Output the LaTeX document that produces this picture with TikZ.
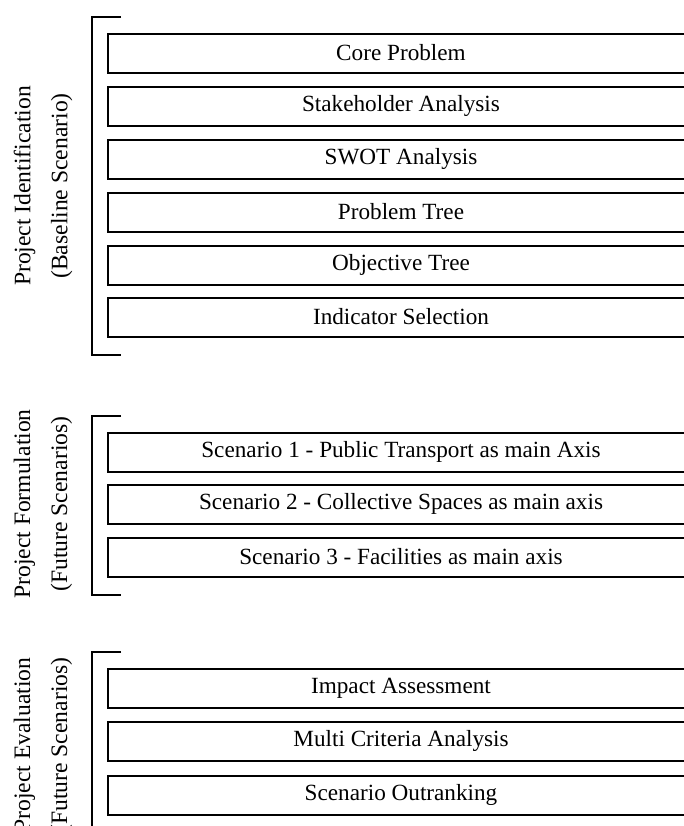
\documentclass[tikz,border=0pt]{standalone}
\usepackage{fontspec}
\setmainfont{Liberation Serif}
\usepackage{tikz}
\usetikzlibrary{calc}
\tikzset{stepbox/.style={draw, line width=1pt, minimum width=293pt, minimum height=19.5pt, inner sep=0pt, font=\fontsize{11.6}{13.5}\selectfont}}
\tikzset{phase/.style={rotate=90, align=center, font=\fontsize{11.8}{13.5}\selectfont}}
\tikzset{bracket/.style={line width=1pt}}

\begin{document}
\begin{tikzpicture}[x=0.5pt,y=-0.5pt]
        \useasboundingbox (0,0) rectangle (684,826);

        \node[stepbox] (core)      at (401,  53) {Core Problem};
        \node[stepbox] (stake)     at (401, 106) {Stakeholder Analysis};
        \node[stepbox] (swot)      at (401, 159) {SWOT Analysis};
        \node[stepbox] (probtree)  at (401, 212) {Problem Tree};
        \node[stepbox] (objtree)   at (401, 265) {Objective Tree};
        \node[stepbox] (indicator) at (401, 317) {Indicator Selection};

        \node[stepbox] (scenA) at (401, 452) {Scenario 1 - Public Transport as main Axis};
        \node[stepbox] (scenB) at (401, 504) {Scenario 2 - Collective Spaces as main axis};
        \node[stepbox] (scenC) at (401, 557) {Scenario 3 - Facilities as main axis};

        \node[stepbox] (impact)  at (401, 688) {Impact Assessment};
        \node[stepbox] (multi)   at (401, 741) {Multi Criteria Analysis};
        \node[stepbox] (outrank) at (401, 795) {Scenario Outranking};

        \draw[bracket] ($(core.north west)+(14,-16)$) -- ++(-29,0) |- ($(indicator.south west)+(14,17)$);
        \draw[bracket] ($(scenA.north west)+(14,-16)$) -- ++(-29,0) |- ($(scenC.south west)+(14,17)$);
        \draw[bracket] ($(impact.north west)+(14,-16)$) -- ++(-29,0) |- ($(outrank.south west)+(14,17)$);

        \node[phase] (ident) at (43, 186) {Project Identification\\[5pt](Baseline Scenario)};
        \node[phase] (form)  at (43, 504) {Project Formulation\\[5pt](Future Scenarios)};
        \node[phase] (eval)  at (43, 745) {Project Evaluation\\[5pt](Future Scenarios)};
    \end{tikzpicture}
\end{document}
